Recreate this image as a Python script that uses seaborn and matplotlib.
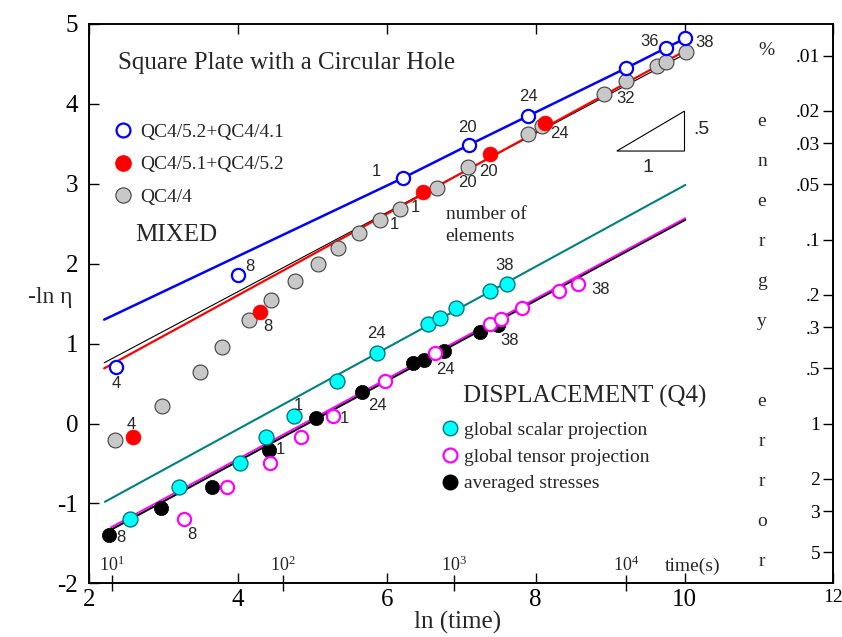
import numpy as np
import matplotlib
matplotlib.use("Agg")
import matplotlib.pyplot as plt
import seaborn as sns
from matplotlib.lines import Line2D
from matplotlib.patches import Polygon

# ---------------- data ----------------
blue_x = [2.36, 4.00, 6.21, 7.11, 7.90, 9.22, 9.75, 10.01]
blue_y = [0.71, 1.855, 3.07, 3.49, 3.85, 4.45, 4.70, 4.82]
red_x = [2.59, 4.29, 6.49, 7.39, 8.13]
red_y = [-0.17, 1.40, 2.90, 3.37, 3.76]
gray_x = [2.35, 2.98, 3.49, 3.79, 4.14, 4.44, 4.76, 5.07, 5.34, 5.62, 5.91,
          6.17, 6.67, 7.09, 7.90, 8.09, 8.92, 9.22, 9.63, 9.75, 10.02]
gray_y = [-0.21, 0.22, 0.65, 0.96, 1.29, 1.54, 1.78, 2.00, 2.20, 2.38, 2.55,
          2.69, 2.95, 3.21, 3.62, 3.72, 4.13, 4.29, 4.47, 4.53, 4.65]
cyan_x = [2.55, 3.20, 4.03, 4.38, 4.75, 5.33, 5.87, 6.55, 6.71, 6.93, 7.39, 7.61]
cyan_y = [-1.20, -0.79, -0.50, -0.17, 0.10, 0.53, 0.88, 1.25, 1.32, 1.44, 1.66, 1.75]
mag_x = [3.27, 3.85, 4.43, 4.85, 5.27, 5.98, 6.64, 7.38, 7.54, 7.81, 8.31, 8.57]
mag_y = [-1.20, -0.79, -0.50, -0.17, 0.09, 0.53, 0.88, 1.25, 1.31, 1.44, 1.66, 1.75]
blk_x = [2.26, 2.96, 3.65, 4.42, 5.05, 5.67, 6.35, 6.50, 6.77, 7.25, 7.49]
blk_y = [-1.39, -1.06, -0.79, -0.33, 0.07, 0.40, 0.76, 0.79, 0.91, 1.14, 1.23]

# fitted / connecting lines
blue_line_x = [2.20, 6.21, 7.11, 7.90, 9.22, 9.75, 10.01]
blue_line_y = [1.30, 3.07, 3.49, 3.85, 4.45, 4.70, 4.82]
red_line_x = [2.20, 10.02]
red_line_y = [0.69, 4.67]
gray_line_x = [2.20, 10.02]
gray_line_y = [0.76, 4.63]
teal_line_x = [2.21, 10.01]
teal_line_y = [-0.98, 2.985]
mag_line_x = [2.29, 10.01]
mag_line_y = [-1.30, 2.57]
blk_line_x = [2.29, 10.01]
blk_line_y = [-1.33, 2.55]

# number-of-elements labels: (point index, text, dx, dy) offsets in points
blue_lab = [(0, "4", 0, -12.2), (1, "8", 8.4, 6.2), (2, "1", -18.7, 4.8),
            (3, "20", -1.4, 12.2), (4, "24", 0, 13.9), (6, "36", -12, 4.8),
            (7, "38", 14.2, -3.2)]
red_lab = [(0, "4", -1.7, 9.4), (1, "8", 6, -10.8), (2, "1", -5.5, -11.5),
           (3, "20", -1.2, -12.2), (4, "24", 10.3, -7.7)]
gray_lab = [(11, "1", -3.8, -11.3), (13, "20", -0.5, -11.1), (17, "32", -0.7, -13)]
cyan_lab = [(4, "1", 3.1, 7), (6, "24", -0.9, 13.9), (11, "38", -1.7, 13)]
mag_lab = [(0, "8", 5.5, -10.8), (4, "1", 8.4, -1.9), (6, "24", 8.2, -11.5),
           (11, "38", 16.1, -4.1)]
blk_lab = [(0, "8", 8.6, -2.2), (3, "1", 7.7, 0), (5, "24", 11.2, -10.3),
           (10, "38", 8.6, -10.8)]

x_ticks = [2, 4, 6, 8, 10, 12]
y_ticks = [-2, -1, 0, 1, 2, 3, 4, 5]
time_vals = [10, 100, 1000, 10000]
time_labels = [r"$\mathregular{10^1}$", r"$\mathregular{10^2}$",
               r"$\mathregular{10^3}$", r"$\mathregular{10^4}$"]
err_vals = [0.01, 0.02, 0.03, 0.05, 0.1, 0.2, 0.3, 0.5, 1, 2, 3, 5]
err_labels = [".01", ".02", ".03", ".05", ".1", ".2", ".3", ".5", "1", "2", "3", "5"]

# ---------------- style ----------------
sns.set_style("ticks")
SERIF = ["Liberation Serif", "DejaVu Serif"]
SANS = ["Liberation Sans", "DejaVu Sans"]
plt.rcParams["font.family"] = SERIF
plt.rcParams["mathtext.fontset"] = "custom"
plt.rcParams["mathtext.rm"] = "Liberation Serif"
plt.rcParams["axes.linewidth"] = 1.2
plt.rcParams["xtick.major.width"] = 1.0
plt.rcParams["ytick.major.width"] = 1.0
plt.rcParams["xtick.minor.width"] = 1.0
plt.rcParams["xtick.color"] = "black"
plt.rcParams["ytick.color"] = "black"
plt.rcParams["axes.edgecolor"] = "black"

W, H = 842, 637
fig = plt.figure(figsize=(W / 100, H / 100), dpi=100)
ax = fig.add_axes([89.3 / W, (H - 583.3) / H, 744 / W, 559.3 / H])

def fx(px):
    return px / W

def fy(py):
    return 1 - py / H

# lines
def line(x, y, color, lw, z=2):
    sns.lineplot(x=x, y=y, sort=False, estimator=None, color=color,
                 linewidth=lw, ax=ax, legend=False, zorder=z)

line(gray_line_x, gray_line_y, "black", 0.8)
line(red_line_x, red_line_y, "#ff0000", 1.6)
line(blue_line_x, blue_line_y, "#0000ff", 1.8)
line(teal_line_x, teal_line_y, "#008080", 1.5)
line(blk_line_x, blk_line_y, "black", 1.5)
line(mag_line_x, mag_line_y, "#ff00ff", 1.3)

# markers
def pts(x, y, face, edge, lw, s, z=3):
    sns.scatterplot(x=x, y=y, ax=ax, s=s, marker="o", color=face,
                    edgecolor=edge, linewidth=lw, zorder=z, legend=False)

pts(gray_x, gray_y, "#c8c8c8", "#404040", 0.8, 115)
pts(red_x, red_y, "#ff0000", "#ff0000", 0.5, 115)
pts(blue_x, blue_y, "white", "#0000ff", 1.6, 90, z=4)
pts(blk_x, blk_y, "black", "black", 0.5, 105)
pts(cyan_x, cyan_y, "#00ffff", "#007a7a", 1.0, 115, z=4)
pts(mag_x, mag_y, "white", "#ff00ff", 1.6, 90, z=4)

def labels(xs, ys, labs):
    for i, t, dx, dy in labs:
        ax.annotate(t, (xs[i], ys[i]), xytext=(dx, dy), textcoords="offset points",
                    ha="center", va="center", fontsize=12, family=SANS, zorder=5)

labels(blue_x, blue_y, blue_lab)
labels(red_x, red_y, red_lab)
labels(gray_x, gray_y, gray_lab)
labels(cyan_x, cyan_y, cyan_lab)
labels(mag_x, mag_y, mag_lab)
labels(blk_x, blk_y, blk_lab)

# slope triangle
tri = Polygon([[9.09, 3.41], [10.0, 3.91], [10.0, 3.41]], closed=True, fill=False,
              edgecolor="black", linewidth=0.8, zorder=2)
ax.add_patch(tri)
ax.text(10.12, 3.68, ".5", fontsize=14, family=SANS, ha="left", va="center")
ax.text(9.51, 3.205, "1", fontsize=14, family=SANS, ha="center", va="center")

# axes
ax.set_xlim(2, 12)
ax.set_ylim(-2, 5)
ax.set_xticks(x_ticks)
ax.set_xticklabels([str(v) for v in x_ticks])
ax.set_yticks(y_ticks)
ax.set_yticklabels([str(v) for v in y_ticks])
ax.tick_params(axis="x", which="major", direction="in", length=7, top=True,
               bottom=True, labelsize=18, pad=4)
ax.set_xticks(np.log(time_vals), minor=True)
ax.tick_params(axis="x", which="minor", direction="inout", length=11, top=False,
               bottom=True)
ax.tick_params(axis="y", which="major", direction="in", length=7, left=True,
               right=False, labelsize=18, pad=8)
xl = ax.get_xticklabels()
xl[-1].set_fontsize(14)
ax.set_xlabel("")
ax.set_ylabel("")
for sp in ax.spines.values():
    sp.set_visible(True)
    sp.set_color("black")

for v, t in zip(time_vals, time_labels):
    ax.text(np.log(v), -1.78, t, ha="center", va="center", fontsize=13)
ax.text(fx(692.7), fy(566.7), "time(s)", transform=fig.transFigure,
        ha="center", va="center", fontsize=14)

# energy error scale on the right
ax2 = ax.twinx()
ax2.set_ylim(-2, 5)
ax2.set_yticks(-np.log(err_vals))
ax2.set_yticklabels(err_labels)
ax2.tick_params(axis="y", direction="in", length=7, pad=-9.5, labelsize=14)
for lbl in ax2.get_yticklabels():
    lbl.set_ha("right")
ax2.set_ylabel("")
for sp in ax2.spines.values():
    sp.set_color("black")

fig.text(fx(766), fy(55), "%", ha="center", va="baseline", fontsize=14)
letters = ["e", "n", "e", "r", "g", "y", "", "e", "r", "r", "o", "r"]
for k, ch in enumerate(letters):
    if ch:
        fig.text(fx(762), fy(126 + 40 * k), ch, ha="center", va="baseline", fontsize=14)

# axis titles
fig.text(fx(50), fy(298), "-ln \u03b7", ha="center", va="center", fontsize=17)
fig.text(fx(457.5), fy(622), "ln (time)", ha="center", va="center", fontsize=18)

# annotations
fig.text(fx(117.7), fy(69.5), "Square Plate with a Circular Hole", ha="left",
         va="baseline", fontsize=18)
fig.text(fx(135), fy(240.7), "MIXED", ha="left", va="baseline", fontsize=18)
fig.text(fx(445.7), fy(219), "number of", ha="left", va="baseline", fontsize=14)
fig.text(fx(445.7), fy(240.7), "elements", ha="left", va="baseline", fontsize=14)
fig.text(fx(463.3), fy(403), "DISPLACEMENT (Q4)", ha="left", va="baseline", fontsize=18)

# legends
h1 = [Line2D([], [], ls="none", marker="o", markersize=10, markerfacecolor="white",
             markeredgecolor="#0000ff", markeredgewidth=1.6),
      Line2D([], [], ls="none", marker="o", markersize=11, markerfacecolor="#ff0000",
             markeredgecolor="#ff0000"),
      Line2D([], [], ls="none", marker="o", markersize=11, markerfacecolor="#c8c8c8",
             markeredgecolor="#404040", markeredgewidth=0.8)]
leg1 = fig.legend(h1, ["QC4/5.2+QC4/4.1", "QC4/5.1+QC4/5.2", "QC4/4"],
                  loc="upper left", bbox_to_anchor=(fx(113), fy(123)),
                  bbox_transform=fig.transFigure, frameon=False, borderpad=0,
                  borderaxespad=0, handlelength=1.0, handletextpad=0.4,
                  labelspacing=0.78, prop={"family": SERIF, "size": 14})
h2 = [Line2D([], [], ls="none", marker="o", markersize=10.5, markerfacecolor="#00ffff",
             markeredgecolor="#007a7a", markeredgewidth=1.0),
      Line2D([], [], ls="none", marker="o", markersize=10, markerfacecolor="white",
             markeredgecolor="#ff00ff", markeredgewidth=1.6),
      Line2D([], [], ls="none", marker="o", markersize=10.5, markerfacecolor="black",
             markeredgecolor="black")]
leg2 = fig.legend(h2, ["global scalar projection", "global tensor projection",
                       "averaged stresses"],
                  loc="upper left", bbox_to_anchor=(fx(442), fy(421)),
                  bbox_transform=fig.transFigure, frameon=False, borderpad=0,
                  borderaxespad=0, handlelength=0.8, handletextpad=0.32,
                  labelspacing=0.48, prop={"family": SERIF, "size": 14})

fig.savefig("out.png", dpi=100)
